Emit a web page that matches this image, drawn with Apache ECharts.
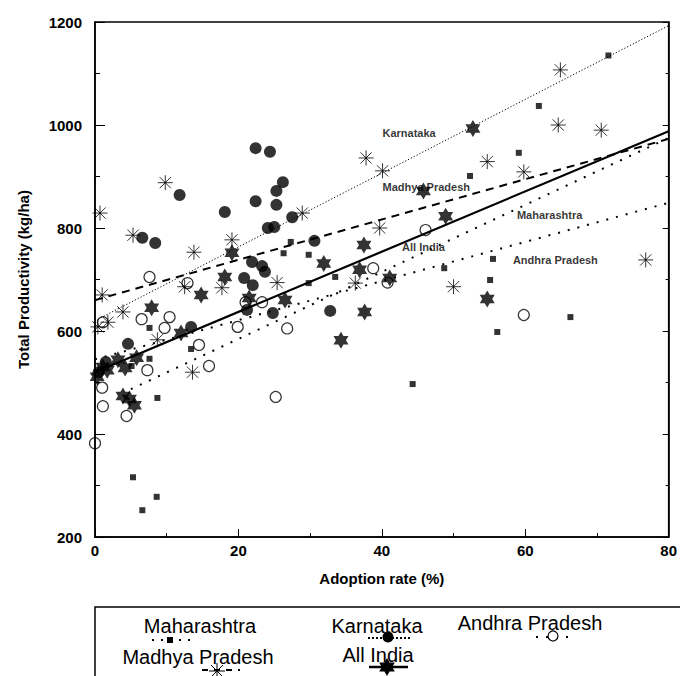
<!DOCTYPE html>
<html><head><meta charset="utf-8">
<script src="https://cdn.jsdelivr.net/npm/echarts@6/dist/echarts.min.js"></script>
<style>html,body{margin:0;padding:0;background:#fff}#c{width:680px;height:676px}</style>
</head><body><div id="c"></div>
<script>
// ---- data ----
const maharashtra = [[5.1,532],[5.3,316],[6.6,252],[7.6,606],[7.6,546],[8.6,278],[8.7,470],[13.4,565],[26.3,751],[27.3,773],[29.8,693],[29.8,748],[33.5,705],[44.3,497],[48.7,722],[52.3,901],[55.1,699],[55.5,740],[56.1,598],[59.1,946],[61.9,1037],[66.3,627],[71.6,1135]];
const karnataka = [[0.5,520],[1.5,540],[4.6,575],[6.6,781],[8.4,771],[11.8,864],[13.4,608],[18.1,831],[20.8,703],[21.2,641],[21.9,734],[22.0,689],[22.4,852],[22.4,955],[23.3,726],[23.7,715],[24.1,800],[24.4,948],[24.8,635],[25.0,802],[25.3,845],[25.3,872],[26.2,889],[27.5,821],[30.6,775],[32.8,639]];
const andhra = [[0.0,382],[1.0,490],[1.1,454],[1.1,617],[4.4,435],[6.5,623],[7.3,524],[7.6,705],[9.7,606],[10.4,627],[12.9,693],[14.5,573],[15.9,532],[19.9,608],[21.0,656],[23.3,656],[25.2,472],[26.8,605],[38.8,722],[40.8,694],[46.1,796],[59.8,631]];
const madhya = [[0.4,608],[0.7,829],[1.0,670],[1.8,617],[3.9,637],[5.3,786],[8.7,583],[9.8,888],[12.5,686],[13.6,520],[13.8,753],[17.7,684],[19.1,777],[25.4,694],[28.9,829],[36.3,693],[37.8,936],[39.7,800],[40.1,911],[50.0,686],[54.7,929],[59.8,909],[64.6,1000],[64.9,1107],[70.6,990],[76.8,738]];
const allIndia = [[0.3,511],[1.1,530],[1.7,524],[3.2,544],[3.9,474],[4.2,528],[4.8,468],[5.5,456],[5.8,548],[7.9,645],[12.0,596],[14.8,670],[18.1,705],[19.1,752],[21.5,664],[26.5,660],[31.9,731],[34.3,582],[36.9,719],[37.5,767],[37.6,637],[41.1,703],[45.8,872],[48.9,823],[52.7,993],[54.7,662]];

// trend line end points
const trendKarnataka = [[0,620],[80,1193]];
const trendMadhya = [[0,660],[80,973]];
const trendAllIndia = [[0,520],[80,988]];
const trendMaharashtra = [[5,487],[80,975]];
const trendAndhra = [[0,545],[80,849]];

// in-plot line labels
const lineLabels = [[43.8,984,'Karnataka'],[46.2,880,'Madhya Pradesh'],[45.8,763,'All India'],[63.4,825,'Maharashtra'],[64.2,738,'Andhra Pradesh']];

const xTicks = {min:0, max:80, interval:20};
const yTicks = {min:200, max:1200, interval:200};
const seriesNames = ['Maharashtra','Karnataka','Andhra Pradesh','Madhya Pradesh','All India'];

// ---- symbols ----
const STAR = 'path://M0,-10L2.885,-5L8.66,-5L5.77,0L8.66,5L2.885,5L0,10L-2.885,5L-8.66,5L-5.77,0L-8.66,-5L-2.885,-5Z';
const ASTER = 'path://M0,-10L0,10M-10,0L10,0M-7.5,-7.5L7.5,7.5M-7.5,7.5L7.5,-7.5';
const FONT = '"Liberation Sans", Arial, sans-serif';

const chart = echarts.init(document.getElementById('c'), null, {renderer:'svg'});

function trend(data, type, width){
  return {type:'line', data:data, showSymbol:false, silent:true, z:1,
    lineStyle:{color:'#000', width:width, type:type}};
}

// legend drawn below the plot
const lg = [];
lg.push({type:'rect', shape:{x:95, y:607, width:620, height:120}, style:{fill:'#fff', stroke:'#000', lineWidth:1.5}, z:10});
function lgText(t, x, y){ lg.push({type:'text', x:x, y:y, style:{text:t, font:'20px '+FONT, fill:'#000', align:'center', verticalAlign:'middle'}, z:11}); }
function lgLine(x1,x2,y,dash,w){ lg.push({type:'line', shape:{x1:x1,y1:y,x2:x2,y2:y}, style:{stroke:'#000', lineWidth:w, lineDash:dash}, z:11}); }
lgText(seriesNames[0], 200, 626);
lgLine(152,192,640,[2,7],2);
lg.push({type:'rect', shape:{x:167,y:637,width:6,height:6}, style:{fill:'#000'}, z:12});
lgText(seriesNames[1], 377, 626);
lgLine(368,412,638,[2,2],2);
lg.push({type:'circle', shape:{cx:388,cy:637,r:5.5}, style:{fill:'#000'}, z:12});
lgText(seriesNames[2], 530, 623);
lgLine(536,572,637,[2,8],2);
lg.push({type:'circle', shape:{cx:553,cy:636,r:5}, style:{fill:'#fff', stroke:'#000', lineWidth:1.2}, z:12});
lgText(seriesNames[3], 198, 657);
lgLine(202,240,670,[6,6],2);
[[0,-8,0,8],[-8,0,8,0],[-6,-6,6,6],[-6,6,6,-6]].forEach(s=>lg.push({type:'line', shape:{x1:217+s[0],y1:671+s[1],x2:217+s[2],y2:671+s[3]}, style:{stroke:'#000',lineWidth:1}, z:12}));
lgText(seriesNames[4], 378, 655);
lgLine(369,408,667,null,2.5);
lg.push({type:'polygon', shape:{points:[[0,-9],[2.6,-4.5],[7.8,-4.5],[5.2,0],[7.8,4.5],[2.6,4.5],[0,9],[-2.6,4.5],[-7.8,4.5],[-5.2,0],[-7.8,-4.5],[-2.6,-4.5]].map(p=>[387+p[0],667+p[1]])}, style:{fill:'#000'}, z:12});

const axisLbl = {color:'#000', fontFamily:FONT, fontWeight:'bold', fontSize:15, formatter:v=>String(v)};

chart.setOption({
  backgroundColor:'#fff',
  animation:false,
  grid:{left:95, top:22, right:7, bottom:139, show:true, borderColor:'#000', borderWidth:1.5, containLabel:false},
  xAxis:{type:'value', min:xTicks.min, max:xTicks.max, interval:xTicks.interval,
    name:'Adoption rate (%)', nameLocation:'middle', nameGap:34,
    nameTextStyle:{color:'#000', fontFamily:FONT, fontWeight:'bold', fontSize:15},
    axisLine:{lineStyle:{color:'#000', width:1.5}},
    axisTick:{inside:true, length:8, lineStyle:{color:'#000'}},
    minorTick:{show:true, splitNumber:2, length:4, lineStyle:{color:'#000'}},
    splitLine:{show:false},
    axisLabel:Object.assign({margin:6}, axisLbl)},
  yAxis:[{type:'value', min:yTicks.min, max:yTicks.max, interval:yTicks.interval,
    name:'Total Productivity (kg/ha)', nameLocation:'middle', nameGap:64, nameRotate:90,
    nameTextStyle:{color:'#000', fontFamily:FONT, fontWeight:'bold', fontSize:15},
    axisLine:{lineStyle:{color:'#000', width:1.5}},
    axisTick:{inside:true, length:10, lineStyle:{color:'#000'}},
    minorTick:{show:true, splitNumber:2, length:5, lineStyle:{color:'#000'}},
    splitLine:{show:false},
    axisLabel:Object.assign({margin:13}, axisLbl)},
   {type:'value', position:'right', min:yTicks.min, max:yTicks.max, interval:yTicks.interval,
    axisLine:{show:true, lineStyle:{color:'#000', width:1.5}},
    axisTick:{inside:true, length:6, lineStyle:{color:'#000'}},
    minorTick:{show:true, splitNumber:2, length:3, lineStyle:{color:'#000'}},
    splitLine:{show:false}, axisLabel:{show:false}}],
  series:[
    trend(trendKarnataka, [1.2,2], 1),
    trend(trendMadhya, [8,6], 2),
    trend(trendAllIndia, 'solid', 2.2),
    trend(trendMaharashtra, [2,8], 2),
    trend(trendAndhra, [2,8], 2),
    {name:seriesNames[0], type:'scatter', data:maharashtra, symbol:'rect', symbolSize:6, z:5,
      itemStyle:{color:'#000'}},
    {name:seriesNames[1], type:'scatter', data:karnataka, symbol:'circle', symbolSize:12, z:4,
      itemStyle:{color:'#000'}},
    {name:seriesNames[2], type:'scatter', data:andhra, symbol:'circle', symbolSize:11, z:4,
      itemStyle:{color:'rgba(255,255,255,0)', borderColor:'#000', borderWidth:1.2}},
    {name:seriesNames[3], type:'scatter', data:madhya, symbol:ASTER, symbolSize:15, z:4,
      itemStyle:{color:'rgba(255,255,255,0)', borderColor:'#000', borderWidth:1}},
    {name:seriesNames[4], type:'scatter', data:allIndia, symbol:STAR, symbolSize:[15,17], z:5,
      itemStyle:{color:'#000'}},
    {type:'scatter', data:lineLabels, symbolSize:0, silent:true, z:6,
      label:{show:true, position:'inside', formatter:p=>p.data[2], color:'#000',
        fontFamily:FONT, fontWeight:'bold', fontSize:11}}
  ],
  graphic:lg
});
</script></body></html>
